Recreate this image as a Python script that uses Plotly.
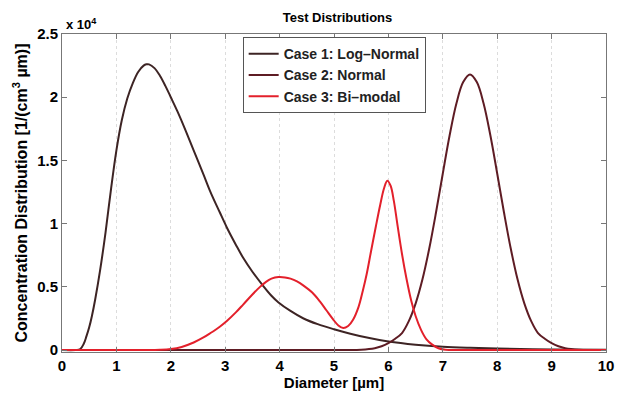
import plotly.graph_objects as go

# ---- data (values in units of 1e4) ----
x_lognormal = [0, 0.25, 0.33, 0.4, 0.45, 0.5, 0.55, 0.61, 0.7, 0.8, 0.9, 1.0, 1.1, 1.2, 1.3,
               1.4, 1.5, 1.55, 1.6, 1.7, 1.8, 1.9, 2.0, 2.12, 2.25, 2.42, 2.6, 2.73, 2.9, 3.03,
               3.2, 3.33, 3.5, 3.68, 3.85, 3.98, 4.2, 4.44, 4.7, 5.0, 5.3, 5.65, 6.0, 6.5,
               7.0, 7.5, 8.0, 9.0, 10.0]
y_lognormal = [0, 0, 0.005, 0.05, 0.11, 0.18, 0.27, 0.40, 0.63, 0.93, 1.27, 1.58, 1.82, 1.99,
               2.11, 2.20, 2.25, 2.26, 2.26, 2.23, 2.17, 2.09, 2.00, 1.89, 1.76, 1.58, 1.39,
               1.25, 1.09, 0.97, 0.83, 0.73, 0.62, 0.518, 0.43, 0.377, 0.31, 0.25, 0.205,
               0.165, 0.13, 0.095, 0.068, 0.043, 0.027, 0.018, 0.012, 0.005, 0.002]

x_normal = [0, 5.0, 5.25, 5.5, 5.75, 5.875, 6.0, 6.125, 6.25, 6.375, 6.5, 6.625, 6.75, 6.875,
            7.0, 7.125, 7.25, 7.375, 7.5, 7.625, 7.75, 7.875, 8.0, 8.125, 8.25, 8.375, 8.5,
            8.625, 8.75, 8.875, 9.0, 9.125, 9.25, 9.5, 9.75, 10]
y_normal = [0, 0, 0.0005, 0.003, 0.015, 0.03, 0.055, 0.09, 0.135, 0.229, 0.368, 0.558, 0.801,
            1.088, 1.397, 1.697, 1.950, 2.120, 2.18, 2.120, 1.950, 1.697, 1.397, 1.088, 0.801,
            0.558, 0.368, 0.229, 0.135, 0.09, 0.055, 0.03, 0.015, 0.003, 0.0005, 0]

x_bimodal = [0, 1.5, 1.8, 2.0, 2.2, 2.42, 2.6, 2.73, 2.9, 3.03, 3.2, 3.33, 3.5, 3.64, 3.75,
             3.85, 3.98, 4.1, 4.2, 4.32, 4.44, 4.6, 4.74, 4.86, 4.98, 5.08, 5.17, 5.26, 5.35,
             5.45, 5.53, 5.6, 5.68, 5.77, 5.85, 5.92, 5.98, 6.04, 6.1, 6.17, 6.25, 6.33, 6.42,
             6.5, 6.6, 6.7, 6.8, 6.92, 7.05, 7.3, 10]
y_bimodal = [0, 0, 0.002, 0.008, 0.025, 0.06, 0.10, 0.135, 0.185, 0.23, 0.30, 0.36, 0.44,
             0.50, 0.54, 0.565, 0.578, 0.575, 0.565, 0.543, 0.51, 0.455, 0.385, 0.315, 0.245,
             0.195, 0.174, 0.19, 0.24, 0.34, 0.47, 0.60, 0.78, 0.98, 1.15, 1.28, 1.34, 1.30,
             1.18, 0.98, 0.76, 0.57, 0.39, 0.27, 0.16, 0.085, 0.045, 0.015, 0.003, 0, 0]

series_names = ["Case 1: Log\u2013Normal", "Case 2: Normal", "Case 3: Bi\u2013modal"]
x_ticks = list(range(0, 11))
y_tickvals = [0, 5000, 10000, 15000, 20000, 25000]
y_ticktext = ["0", "0.5", "1", "1.5", "2", "2.5"]
SCALE = 1e4

FONT = "Liberation Sans, Arial, sans-serif"
colors = ["#3d2424", "#5e1c24", "#e3202b"]

fig = go.Figure()
for xs, ys, name, col in zip([x_lognormal, x_normal, x_bimodal],
                             [y_lognormal, y_normal, y_bimodal],
                             series_names, colors):
    fig.add_trace(go.Scatter(
        x=xs, y=[v * SCALE for v in ys], name=name, mode="lines",
        line=dict(color=col, width=2, shape="spline", smoothing=1.0),
    ))

fig.update_layout(
    width=626, height=397,
    margin=dict(l=62, r=13, t=34, b=38),
    paper_bgcolor="white", plot_bgcolor="white",
    font=dict(family=FONT, size=14, color="black", weight="bold"),
    title=dict(text="Test Distributions", x=(62 + 613) / 2 / 626, xanchor="center",
               y=1 - 17 / 397, yanchor="middle",
               font=dict(size=13, family=FONT, weight="bold")),
    showlegend=True,
    legend=dict(x=(245 - 62) / 551, y=0.99, xanchor="left", yanchor="top",
                bgcolor="white", bordercolor="#555555", borderwidth=1,
                font=dict(size=14, family=FONT, weight="bold", color="#222"),
                itemwidth=30, tracegroupgap=0),
)

fig.update_xaxes(
    range=[0, 10], tickvals=x_ticks, ticks="inside", ticklen=5, tickcolor="#777",
    showline=True, linecolor="#777", linewidth=1, mirror="ticks",
    showgrid=True, gridcolor="#dcdcdc", griddash="dot", gridwidth=1, zeroline=False,
    tickfont=dict(size=15, family=FONT, weight="bold"),
    title=dict(text="Diameter [\u00b5m]", standoff=0,
               font=dict(size=15, family=FONT, weight="bold")),
)
fig.update_yaxes(
    range=[-150, 25000], tickvals=y_tickvals, ticktext=y_ticktext, ticks="inside",
    ticklen=5, tickcolor="#777",
    showline=True, linecolor="#777", linewidth=1, mirror="ticks",
    showgrid=False, zeroline=False,
    tickfont=dict(size=15, family=FONT, weight="bold"),
    title=dict(text="Concentration Distribution [1/(cm<sup>3</sup> \u00b5m)]", standoff=5,
               font=dict(size=16, family=FONT, weight="bold")),
)

fig.add_annotation(text="x 10<sup>4</sup>", xref="paper", yref="paper", x=0.0, y=1.0,
                   xanchor="left", yanchor="bottom", showarrow=False, xshift=2,
                   font=dict(size=13, family=FONT, weight="bold"))

fig.write_html("out.html")
